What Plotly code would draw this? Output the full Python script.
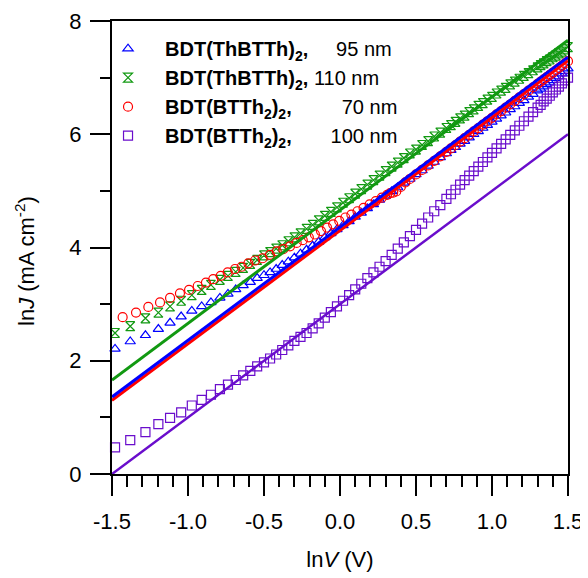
import plotly.graph_objects as go

# ---- data ----
lnV = [-1.48, -1.38, -1.28, -1.195, -1.118, -1.045, -0.975, -0.91, -0.849, -0.79, -0.737, -0.686,
       -0.637, -0.59, -0.545, -0.50, -0.46, -0.42,
       -0.38, -0.34, -0.30, -0.26, -0.22, -0.18, -0.14, -0.10, -0.06, -0.02,
       0.02, 0.06, 0.10, 0.14, 0.18, 0.22, 0.26, 0.30, 0.34, 0.38,
       0.42, 0.46, 0.50, 0.54, 0.58, 0.62, 0.66, 0.70,
       0.73, 0.76, 0.79, 0.82, 0.85, 0.88, 0.91, 0.94, 0.97, 1.00,
       1.03, 1.06, 1.09, 1.12, 1.15, 1.18, 1.21, 1.24, 1.27, 1.30,
       1.32, 1.34, 1.36, 1.38, 1.40, 1.42, 1.44, 1.46, 1.48, 1.50]

lnJ_thbtth_95 = [2.21, 2.34, 2.45, 2.56, 2.67, 2.78, 2.88, 2.96, 3.03, 3.11, 3.18, 3.26,
                 3.33, 3.39, 3.46, 3.51, 3.56, 3.62,
                 3.69, 3.75, 3.82, 3.89, 3.96, 4.03, 4.10, 4.18, 4.25, 4.32,
                 4.39, 4.46, 4.54, 4.61, 4.69, 4.76, 4.84, 4.91, 4.99, 5.06,
                 5.14, 5.21, 5.29, 5.36, 5.44, 5.51, 5.59, 5.66,
                 5.72, 5.77, 5.83, 5.88, 5.94, 6.00, 6.05, 6.11, 6.16, 6.22,
                 6.27, 6.33, 6.38, 6.44, 6.49, 6.55, 6.60, 6.66, 6.71, 6.77,
                 6.80, 6.84, 6.88, 6.91, 6.95, 6.99, 7.02, 7.07, 7.11, 7.16]

lnJ_thbtth_110 = [2.49, 2.61, 2.75, 2.85, 2.96, 3.06, 3.16, 3.25, 3.34, 3.43, 3.50, 3.57,
                  3.64, 3.71, 3.78, 3.86, 3.92, 3.98,
                  4.04, 4.11, 4.18, 4.25, 4.33, 4.40, 4.48, 4.56, 4.63, 4.71,
                  4.79, 4.87, 4.95, 5.03, 5.11, 5.19, 5.27, 5.35, 5.43, 5.50,
                  5.58, 5.66, 5.73, 5.81, 5.88, 5.96, 6.03, 6.11,
                  6.16, 6.22, 6.28, 6.33, 6.39, 6.44, 6.50, 6.55, 6.61, 6.66,
                  6.72, 6.77, 6.82, 6.88, 6.93, 6.98, 7.03, 7.08, 7.13, 7.18,
                  7.22, 7.25, 7.29, 7.32, 7.36, 7.39, 7.43, 7.46, 7.50, 7.54]

lnJ_btth2_100 = [0.47, 0.60, 0.74, 0.88, 0.99, 1.09, 1.21, 1.31, 1.40, 1.50, 1.58, 1.66,
                 1.74, 1.82, 1.90, 1.97, 2.04, 2.11,
                 2.19, 2.27, 2.35, 2.42, 2.49, 2.57, 2.66, 2.76, 2.86, 2.96,
                 3.06, 3.16, 3.26, 3.36, 3.46, 3.56, 3.66, 3.76, 3.87, 3.98,
                 4.09, 4.20, 4.31, 4.42, 4.53, 4.64, 4.75, 4.86,
                 4.94, 5.02, 5.11, 5.19, 5.27, 5.35, 5.43, 5.51, 5.59, 5.67,
                 5.75, 5.83, 5.91, 5.99, 6.07, 6.15, 6.23, 6.31, 6.39, 6.47,
                 6.52, 6.58, 6.63, 6.68, 6.74, 6.79, 6.84, 6.90, 6.95, 7.00]

lnV_btth2_70 = [-1.43, -1.342, -1.261, -1.184, -1.118, -1.053, -0.993, -0.936, -0.882, -0.834, -0.785,
                -0.739, -0.691, -0.647, -0.603, -0.559, -0.509, -0.461, -0.416, -0.373, -0.329, -0.285,
                -0.245, -0.205, -0.165, -0.125, -0.085, -0.045, -0.005, 0.035, 0.075, 0.115, 0.155,
                0.195, 0.235, 0.275,
                0.31, 0.33, 0.35, 0.37, 0.40, 0.43, 0.46,
                0.50, 0.54, 0.58, 0.62, 0.66, 0.70,
                0.73, 0.76, 0.79, 0.82, 0.85, 0.88, 0.91, 0.94, 0.97, 1.00,
                1.03, 1.06, 1.09, 1.12, 1.15, 1.18, 1.21, 1.24, 1.27, 1.30,
                1.32, 1.34, 1.36, 1.38, 1.40, 1.42, 1.44, 1.46, 1.48, 1.50]
lnJ_btth2_70 = [2.77, 2.85, 2.95, 3.03, 3.11, 3.19, 3.25, 3.32, 3.38, 3.44, 3.50,
                3.56, 3.62, 3.66, 3.72, 3.77, 3.81, 3.87, 3.93, 3.97, 4.02, 4.08,
                4.13, 4.18, 4.23, 4.29, 4.35, 4.41, 4.47, 4.53, 4.58, 4.64, 4.70,
                4.76, 4.82, 4.88,
                4.93, 4.96, 4.97, 4.99, 5.07, 5.15, 5.21,
                5.29, 5.37, 5.45, 5.53, 5.61, 5.69,
                5.75, 5.81, 5.87, 5.93, 5.99, 6.05, 6.11, 6.17, 6.23, 6.29,
                6.35, 6.41, 6.47, 6.53, 6.59, 6.65, 6.71, 6.77, 6.83, 6.89,
                6.93, 6.97, 7.01, 7.05, 7.09, 7.13, 7.17, 7.21, 7.25, 7.29]

# linear fits (slope 2)
fit_lnV = [-1.5, 1.5]
fit_thbtth_95 = [1.36, 7.36]
fit_thbtth_110 = [1.66, 7.66]
fit_btth2_70 = [1.30, 7.30]
fit_btth2_100 = [0.0, 6.0]

x_tickvals = [-1.5, -1.0, -0.5, 0.0, 0.5, 1.0, 1.5]
x_ticktext = ["-1.5", "-1.0", "-0.5", "0.0", "0.5", "1.0", "1.5"]
y_tickvals = [0, 2, 4, 6, 8]
y_ticktext = ["0", "2", "4", "6", "8"]

NB = "\u00a0"
names = [
    "<b>BDT(ThBTTh)<sub>2</sub>,</b>" + NB * 5 + "95 nm",
    "<b>BDT(ThBTTh)<sub>2</sub>,</b>" + NB * 1 + "110 nm",
    "<b>BDT(BTTh<sub>2</sub>)<sub>2</sub>,</b>" + NB * 9 + "70 nm",
    "<b>BDT(BTTh<sub>2</sub>)<sub>2</sub>,</b>" + NB * 7 + "100 nm",
]

BLUE = "#0000FF"
GREEN = "#119911"
RED = "#FF0000"
PURPLE = "#6A0DCC"

FONT = "Liberation Sans, Arial, sans-serif"

fig = go.Figure()

series = [
    (lnV, lnJ_thbtth_95, BLUE, "triangle-up-open", 9, names[0]),
    (lnV, lnJ_thbtth_110, GREEN, "hourglass-open", 9, names[1]),
    (lnV_btth2_70, lnJ_btth2_70, RED, "circle-open", 9, names[2]),
    (lnV, lnJ_btth2_100, PURPLE, "square-open", 9, names[3]),
]
for xs, ys, col, sym, sz, nm in series:
    fig.add_trace(go.Scatter(
        x=xs, y=ys, mode="markers", name=nm, cliponaxis=False,
        marker=dict(symbol=sym, size=sz, color=col, line=dict(color=col, width=1.2)),
    ))

fits = [
    (fit_btth2_70, RED, 3),
    (fit_thbtth_95, BLUE, 3),
    (fit_thbtth_110, GREEN, 3),
    (fit_btth2_100, PURPLE, 2.5),
]
for ys, col, w in fits:
    fig.add_trace(go.Scatter(x=fit_lnV, y=ys, mode="lines", showlegend=False,
                             line=dict(color=col, width=w)))

axis_common = dict(
    showgrid=False, zeroline=False, showline=True, linecolor="black", linewidth=2,
    mirror=True, ticks="outside", ticklen=20, tickwidth=2, tickcolor="black",
    automargin=False,
    tickfont=dict(family=FONT, size=22, color="black"),
)

# page body has an 8px default margin, so the figure is sized/offset to compensate
fig.update_layout(
    width=580, height=570, autosize=False,
    margin=dict(l=104, r=20, t=13, b=104),
    plot_bgcolor="white", paper_bgcolor="white",
    font=dict(family=FONT, size=20, color="black"),
    xaxis=dict(range=[-1.5, 1.5], tickmode="array", tickvals=x_tickvals, ticktext=x_ticktext,
               ticklabelstandoff=7,
               minor=dict(tickmode="linear", tick0=-1.5, dtick=0.1, ticks="outside",
                          ticklen=11, tickwidth=2, tickcolor="black"),
               title=dict(text="ln<i>V</i> (V)", font=dict(family=FONT, size=22), standoff=18),
               **axis_common),
    yaxis=dict(range=[0, 8], tickmode="array", tickvals=y_tickvals, ticktext=y_ticktext,
               ticklabelstandoff=4,
               minor=dict(tickmode="linear", tick0=0, dtick=1, ticks="outside",
                          ticklen=10, tickwidth=2, tickcolor="black"),
               **axis_common),
    legend=dict(x=-0.046, y=0.982, xanchor="left", yanchor="top", bgcolor="rgba(0,0,0,0)",
                borderwidth=0, itemwidth=64, font=dict(family=FONT, size=20, color="black"),
                traceorder="normal"),
)

# y-axis title
fig.add_annotation(text="ln<i>J</i> (mA cm<sup>-2</sup>)", textangle=-90,
                   xref="paper", yref="paper", x=-0.191, y=0.470,
                   xanchor="center", yanchor="middle", showarrow=False,
                   font=dict(family=FONT, size=22, color="black"))

fig.write_html("out.html")
